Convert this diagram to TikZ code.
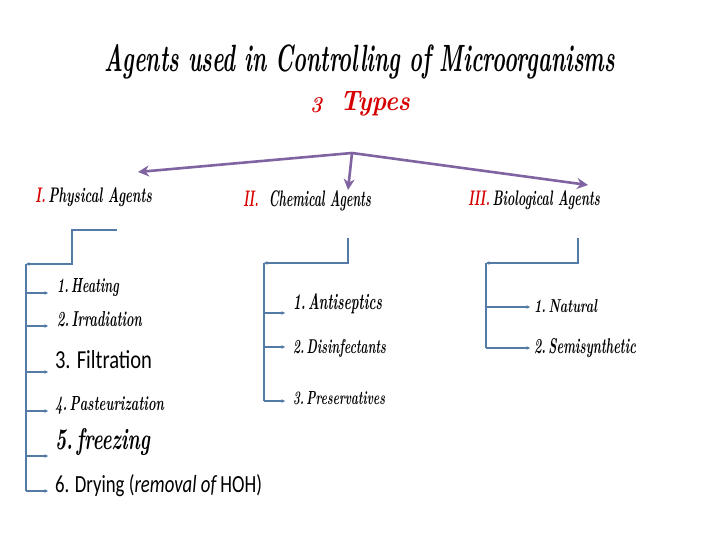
\documentclass[tikz,border=0pt]{standalone}
\usepackage{fontspec}
\usepackage{graphicx}
\newfontfamily\calib{Carlito}
\usetikzlibrary{arrows.meta}
\definecolor{purp}{RGB}{128,100,162}
\definecolor{blu}{RGB}{84,122,166}
\definecolor{rd}{RGB}{214,0,0}
\newcommand{\tx}[3]{\resizebox{#1pt}{#2pt}{#3}}
\newcommand{\cs}{\bfseries\itshape}
\newcommand{\ns}{\hspace{0.2em}}
\begin{document}
\begin{tikzpicture}[x=1pt,y=-1pt,
  lbl/.style={anchor=base west, inner sep=0pt, outer sep=0pt},
  main/.style={draw=purp, line width=2.6pt, -{Stealth[length=11pt,width=11pt]}},
  tree/.style={draw=blu, line width=1.3pt},
  br/.style={tree, -{Stealth[length=3.5pt,width=3.5pt]}}]
\useasboundingbox (0,0) rectangle (720,540);
% title
\node[anchor=base, inner sep=0pt] (title) at (360,72) {\tx{510}{27}{\cs Agents used in Controlling of Microorganisms}};
\node[lbl] (three) at (310,113) {\tx{12}{15}{\color{rd}\cs 3}};
\node[lbl] (types) at (340,111) {\tx{70}{19}{\color{rd}\cs Types}};
% purple arrows
\coordinate (hub) at (352,153);
\coordinate (tl) at (138,172);
\coordinate (tc) at (348,190);
\coordinate (tr) at (588,185);
\draw[main] (hub) -- (tl);
\draw[main] (hub) -- (tc);
\draw[main] (hub) -- (tr);
% headings
\node[lbl] (phys) at (35,203) {\tx{117}{15}{\cs{\color{rd}I.}\ns Physical Agents}};
\node[lbl] (chem) at (243,206) {\tx{128}{16}{\cs{\color{rd}II.}\ \ Chemical Agents}};
\node[lbl] (bio) at (468,206) {\tx{132}{15}{\cs{\color{rd}III.}\ns Biological Agents}};
% physical tree
\coordinate (pa) at (117,230);
\coordinate (pk) at (72,264);
\coordinate (pb) at (26,264);
\draw[br] (pa) -| (pk) -- (pb);
\coordinate (ph1) at (48,293);
\coordinate (ph2) at (48,326);
\coordinate (ph3) at (48,372);
\coordinate (ph4) at (48,411);
\coordinate (ph5) at (48,456);
\coordinate (ph6) at (48,491);
\draw[tree] (pb) -- (pb |- ph6);
\foreach \i in {1,...,6}{\draw[br] (pb |- ph\i) -- (ph\i);}
\node[lbl] (h1) at (57,292) {\tx{62}{14}{\cs 1.\ns Heating}};
\node[lbl] (h2) at (57,326) {\tx{85}{15}{\cs 2.\ns Irradiation}};
\node[lbl] (h3) at (55,368) {\tx{97}{18}{\calib 3. Filtration}};
\node[lbl] (h4) at (55,410) {\tx{109}{14}{\cs 4.\ns Pasteurization}};
\node[lbl] (h5) at (55,449) {\tx{95}{21}{\cs 5.\ns freezing}};
\node[lbl] (h6) at (55,492) {\tx{207}{18}{\calib 6. Drying ({\itshape removal of} HOH)}};
% chemical tree
\coordinate (ca) at (348,238);
\coordinate (ck) at (348,263);
\coordinate (cb) at (264,263);
\draw[br] (ca) -- (ck) -- (cb);
\coordinate (ch1) at (285,313);
\coordinate (ch2) at (285,347);
\coordinate (ch3) at (285,401);
\draw[tree] (cb) -- (cb |- ch3);
\foreach \i in {1,2,3}{\draw[br] (cb |- ch\i) -- (ch\i);}
\node[lbl] (c1) at (293,309) {\tx{89}{16}{\cs 1.\ns Antiseptics}};
\node[lbl] (c2) at (293,353) {\tx{93}{14}{\cs 2.\ns Disinfectants}};
\node[lbl] (c3) at (293,404) {\tx{92}{13}{\cs 3.\ns Preservatives}};
% biological tree
\coordinate (ba) at (578,238);
\coordinate (bk) at (578,263);
\coordinate (bb) at (486,263);
\draw[br] (ba) -- (bk) -- (bb);
\coordinate (bh1) at (530,307);
\coordinate (bh2) at (530,348);
\draw[tree] (bb) -- (bb |- bh2);
\foreach \i in {1,2}{\draw[br] (bb |- bh\i) -- (bh\i);}
\node[lbl] (b1) at (534,312) {\tx{63}{13}{\cs 1.\ns Natural}};
\node[lbl] (b2) at (534,353) {\tx{102}{15}{\cs 2.\ns Semisynthetic}};
\end{tikzpicture}
\end{document}
